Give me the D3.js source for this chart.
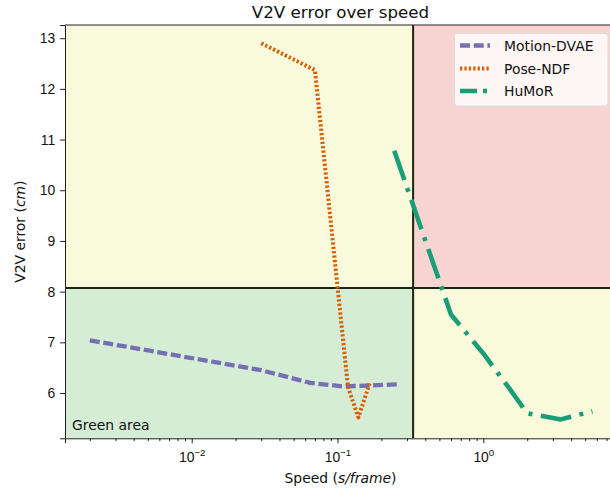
<!DOCTYPE html>
<html>
<head>
<meta charset="utf-8">
<script src="https://cdn.jsdelivr.net/npm/d3@7"></script>
<style>
  body { margin: 0; background: #fff; }
  svg { display: block; font-family: "DejaVu Sans", sans-serif; }
</style>
</head>
<body>
<div id="chart"></div>
<script>
// values
const motionDvae = [[0.002, 7.04], [0.03, 6.45], [0.065, 6.2], [0.11, 6.13], [0.26, 6.17]];
const poseNdf = [[0.03, 12.9], [0.07, 12.37], [0.118, 6.12], [0.139, 5.52], [0.166, 6.19]];
const humor = [[0.245, 10.78], [0.6, 7.55], [1.0, 6.78], [1.5, 6.1], [2.0, 5.6], [3.4, 5.48], [5.6, 5.64]];
const seriesNames = ["Motion-DVAE", "Pose-NDF", "HuMoR"];
const yTicks = [6, 7, 8, 9, 10, 11, 12, 13];
const xTicks = [1e-2, 1e-1, 1e0];
const xTickExp = ["\u22122", "\u22121", "0"];
const speedLimit = 0.33;
const errorLimit = 8.07;

const width = 610, height = 488;
const margin = { top: 25, right: -6, bottom: 49.7, left: 65 };

const svg = d3.select("#chart").append("svg")
  .attr("width", width)
  .attr("height", height);

const x = d3.scaleLog()
  .domain([Math.pow(10, -2.869), Math.pow(10, 0.910)])
  .range([margin.left, width - margin.right]);
const y = d3.scaleLinear()
  .domain([5.107, 13.26])
  .range([height - margin.bottom, margin.top]);

const x0 = x.range()[0], x1 = x.range()[1];
const y0 = y.range()[0], y1 = y.range()[1];

svg.append("clipPath").attr("id", "clip")
  .append("rect")
  .attr("x", x0).attr("y", y1)
  .attr("width", x1 - x0).attr("height", y0 - y1);

// background quadrants
const quads = [
  { xa: x.domain()[0], xb: speedLimit, ya: errorLimit, yb: y.domain()[1], c: "#f9f9dc" },
  { xa: speedLimit, xb: x.domain()[1], ya: errorLimit, yb: y.domain()[1], c: "#f8d5d2" },
  { xa: x.domain()[0], xb: speedLimit, ya: y.domain()[0], yb: errorLimit, c: "#d4edd4" },
  { xa: speedLimit, xb: x.domain()[1], ya: y.domain()[0], yb: errorLimit, c: "#f9f9dc" }
];
svg.append("g").selectAll("rect").data(quads).enter().append("rect")
  .attr("x", d => x(d.xa))
  .attr("y", d => y(d.yb))
  .attr("width", d => x(d.xb) - x(d.xa))
  .attr("height", d => y(d.ya) - y(d.yb))
  .attr("fill", d => d.c);

// threshold lines
svg.append("line")
  .attr("x1", x(speedLimit)).attr("x2", x(speedLimit))
  .attr("y1", y1).attr("y2", y0)
  .attr("stroke", "#1a2410").attr("stroke-width", 2);
svg.append("line")
  .attr("x1", x0).attr("x2", x1)
  .attr("y1", y(errorLimit)).attr("y2", y(errorLimit))
  .attr("stroke", "#1a2410").attr("stroke-width", 2);

svg.append("text")
  .attr("x", 72).attr("y", 430)
  .attr("font-size", 13.9)
  .attr("fill", "#111")
  .text("Green area");

// series
const styles = [
  { data: motionDvae, color: "#7570b3", dash: "10,3.7", w: 4.3 },
  { data: poseNdf, color: "#d95f02", dash: "2.3,2.1", w: 4 },
  { data: humor, color: "#1b9e77", dash: "31,8.5,4,8.5", w: 4.6 }
];
const line = d3.line().x(d => x(d[0])).y(d => y(d[1]));
svg.append("g").attr("clip-path", "url(#clip)")
  .selectAll("path").data(styles).enter().append("path")
  .attr("d", d => line(d.data))
  .attr("fill", "none")
  .attr("stroke", d => d.color)
  .attr("stroke-width", d => d.w)
  .attr("stroke-dasharray", d => d.dash)
  .attr("stroke-linejoin", "round");

// axes
const minor = [];
for (let e = -3; e <= 0; e++) {
  for (let m = 2; m <= 9; m++) {
    const v = m * Math.pow(10, e);
    if (v >= x.domain()[0] && v <= x.domain()[1]) minor.push(v);
  }
}
const xMinor = d3.axisBottom(x).tickValues(minor).tickSize(2.8).tickFormat("");
svg.append("g").attr("transform", "translate(0," + y0 + ")").call(xMinor)
  .call(g => g.select(".domain").remove());

const xAxis = d3.axisBottom(x).tickValues(xTicks).tickSize(4.9).tickPadding(4.9).tickFormat("");
const gx = svg.append("g").attr("transform", "translate(0," + y0 + ")").call(xAxis);
gx.selectAll(".tick text").remove();
gx.selectAll(".tick").each(function(d, i) {
  const t = d3.select(this).append("text")
    .attr("y", 23.5)
    .attr("fill", "#111")
    .attr("font-size", 13.9)
    .attr("text-anchor", "middle");
  t.append("tspan").text("10");
  t.append("tspan").attr("dy", -6).attr("font-size", 9.7).text(xTickExp[i]);
});

const yAxis = d3.axisLeft(y).tickValues(yTicks).tickSize(4.9).tickPadding(4.9);
const gy = svg.append("g").attr("transform", "translate(" + x0 + ",0)").call(yAxis);
gy.selectAll("text").attr("font-size", 13.9).attr("fill", "#111");

svg.selectAll(".domain").attr("stroke", "#222").attr("stroke-width", 1);
svg.selectAll(".tick line").attr("stroke", "#222");

// frame top / right
svg.append("line").attr("x1", x0).attr("x2", x1).attr("y1", y1).attr("y2", y1)
  .attr("stroke", "#222");
svg.append("line").attr("x1", x1).attr("x2", x1).attr("y1", y1).attr("y2", y0)
  .attr("stroke", "#222");

// labels
svg.append("text")
  .attr("x", (x0 + x1) / 2).attr("y", 17.5)
  .attr("text-anchor", "middle")
  .attr("font-size", 16.7)
  .attr("fill", "#111")
  .text("V2V error over speed");

const xl = svg.append("text")
  .attr("x", (x0 + x1) / 2).attr("y", 482.5)
  .attr("text-anchor", "middle")
  .attr("font-size", 13.9)
  .attr("fill", "#111");
xl.append("tspan").text("Speed (");
xl.append("tspan").attr("font-style", "italic").text("s/frame");
xl.append("tspan").text(")");

const yl = svg.append("text")
  .attr("transform", "translate(25," + ((y0 + y1) / 2) + ") rotate(-90)")
  .attr("text-anchor", "middle")
  .attr("font-size", 13.9)
  .attr("fill", "#111");
yl.append("tspan").text("V2V error (");
yl.append("tspan").attr("font-style", "italic").text("cm");
yl.append("tspan").text(")");

// legend
const legend = svg.append("g");
legend.append("rect")
  .attr("x", 454.5).attr("y", 33.5)
  .attr("width", 153.5).attr("height", 72.5)
  .attr("rx", 3)
  .attr("fill", "#fff").attr("fill-opacity", 0.8)
  .attr("stroke", "#ddd");
const rowY = [45.5, 68.5, 91];
styles.forEach((s, i) => {
  legend.append("line")
    .attr("x1", 460).attr("x2", 490)
    .attr("y1", rowY[i]).attr("y2", rowY[i])
    .attr("stroke", s.color)
    .attr("stroke-width", s.w)
    .attr("stroke-dasharray", i === 2 ? "17,6,4,6" : s.dash);
  legend.append("text")
    .attr("x", 504).attr("y", rowY[i] + 5)
    .attr("font-size", 13.9)
    .attr("fill", "#111")
    .text(seriesNames[i]);
});
</script>
</body>
</html>
